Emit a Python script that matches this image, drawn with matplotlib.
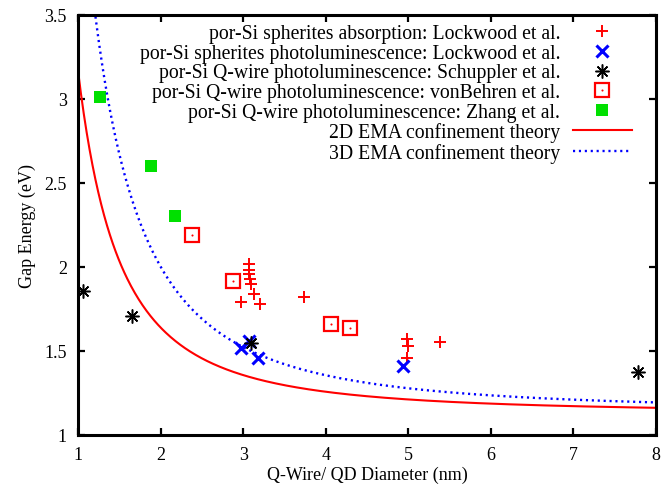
import numpy as np
import matplotlib
matplotlib.use("Agg")
import matplotlib.pyplot as plt

plt.rcParams['font.family'] = ['Liberation Serif', 'DejaVu Serif']
plt.rcParams['font.size'] = 13
plt.rcParams['mathtext.fontset'] = 'stix'

# ---- data ----
abs_lockwood_d = [3.07, 3.07, 3.07, 3.08, 3.09, 3.13, 2.98, 3.20, 3.74, 4.99, 5.00, 4.99, 5.39]
abs_lockwood_E = [2.02, 1.98, 1.96, 1.93, 1.90, 1.84, 1.79, 1.78, 1.82, 1.57, 1.53, 1.46, 1.555]

pl_lockwood_d = [2.98, 3.07, 3.18, 4.93]
pl_lockwood_E = [1.52, 1.56, 1.46, 1.41]

schuppler_d = [1.06, 1.66, 3.10, 7.78]
schuppler_E = [1.855, 1.71, 1.55, 1.373]

vonbehren_d = [2.38, 2.88, 4.07, 4.29]
vonbehren_E = [2.19, 1.915, 1.66, 1.635]

zhang_d = [1.27, 1.89, 2.18]
zhang_E = [3.01, 2.60, 2.305]

# theory curves E = Eg + C / d^2 (parameters)
ema2d_Eg, ema2d_C = 1.13, 2.04
ema3d_Eg, ema3d_C = 1.14, 3.45

labels = [
    "por-Si spherites absorption: Lockwood et al.",
    "por-Si spherites photoluminescence: Lockwood et al.",
    "por-Si Q-wire photoluminescence: Schuppler et al.",
    "por-Si Q-wire photoluminescence: vonBehren et al.",
    "por-Si Q-wire photoluminescence: Zhang et al.",
    "2D EMA confinement theory",
    "3D EMA confinement theory",
]

fig = plt.figure(figsize=(6.71, 4.85), dpi=100)
ax = fig.add_axes([78/671, 49/485, 578/671, 420/485])

d = np.linspace(1.0, 8.0, 600)
d3 = np.linspace(1.15, 8.0, 600)

h1, = ax.plot(abs_lockwood_d, abs_lockwood_E, ls='none', marker='+', ms=9,
              mew=1.4, color='#ff0000')
h2, = ax.plot(pl_lockwood_d, pl_lockwood_E, ls='none', marker='x', ms=9,
              mew=2.2, color='#0000ff')
h3, = ax.plot(schuppler_d, schuppler_E, ls='none', marker=(8, 2, 0), ms=10,
              mew=1.1, color='black')
h4a, = ax.plot(vonbehren_d, vonbehren_E, ls='none', marker='s', ms=9.5,
               mew=1.6, mfc='none', mec='#ff0000')
h4b, = ax.plot(vonbehren_d, vonbehren_E, ls='none', marker='o', ms=1.5,
               mew=0, color='#ff0000')
h5, = ax.plot(zhang_d, zhang_E, ls='none', marker='s', ms=9, mew=0,
              color='#00e000')
h6, = ax.plot(d, ema2d_Eg + ema2d_C / d**2, color='#ff0000', lw=1.5)
h7, = ax.plot(d3, ema3d_Eg + ema3d_C / d3**2, color='#0000ff', lw=1.7,
              ls=(0, (0.9, 1.6)))

ax.set_xlim(1, 8)
ax.set_ylim(1, 3.5)
ax.set_xticks([1, 2, 3, 4, 5, 6, 7, 8])
ax.set_xticklabels(['1', '2', '3', '4', '5', '6', '7', '8'])
ax.set_yticks([1, 1.5, 2, 2.5, 3, 3.5])
ax.set_yticklabels(['1', '1.5', '2', '2.5', '3', '3.5'])
ax.tick_params(direction='in', length=5, width=1.6, top=True, right=True,
               labelsize=13, pad=8)
for s in ax.spines.values():
    s.set_linewidth(2.2)

ax.set_xlabel("Q-Wire/ QD Diameter (nm)", fontsize=13, labelpad=2)
ax.set_ylabel("Gap Energy (eV)", fontsize=13, labelpad=6)

leg = ax.legend([h1, h2, h3, (h4a, h4b), h5, h6, h7], labels,
                loc='upper right', bbox_to_anchor=(0.9585, 0.978),
                frameon=False, markerfirst=False, borderpad=0,
                borderaxespad=0, handlelength=3.0, handletextpad=0.65,
                labelspacing=0.03, fontsize=14.2)

fig.savefig("out.png", dpi=100)
